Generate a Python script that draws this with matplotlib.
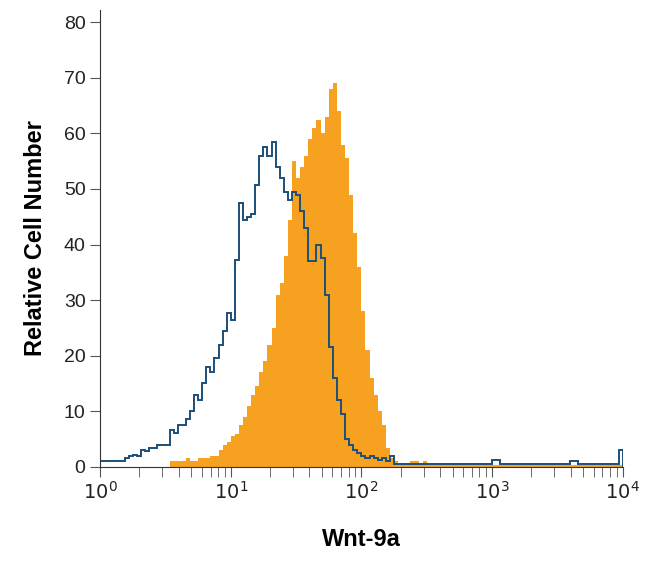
import numpy as np
import matplotlib
matplotlib.use("Agg")
import matplotlib.pyplot as plt
from matplotlib.ticker import LogLocator, FixedLocator

plt.rcParams['font.family'] = ['Liberation Sans', 'DejaVu Sans']

# 32 channels per decade, 10^0 .. 10^4
isotype = [1,1,1,1,1,1,1.5, 2,2.2,2, 3,2.8,3.4, 3.4,4,4, 4,6.6,6, 7.5,7.5,8.6,
           10,13,12, 15,18,17, 19.6,22,24.4, 27.6,26.4,37.2,47.5,44.5,45,45.5,50.7,56,
           57.5,56,58.5,54,52,49.5,48,49.5,49,46,43,37,37,40,37.5,31,21.6,16,12,9.5,
           5,4,3,2.5,2,1.5,2,1.5,1.2,1.5,1,2,
           0.5,0.5,0.5,0.5,0.5,0.5,0.5,0.5,0.5,0.5,0.5,0.5,0.5,0.5,0.5,0.5,0.5,0.5,0.5,0.5,
           0.5,0.5,0.5,0.5,1.2,1.2,0.5,0.5,0.5,0.5,0.5,0.5,0.5,0.5,0.5,0.5,0.5,0.5,0.5,0.5,
           0.5,0.5,0.5,1.0,1.0,0.5,0.5,0.5,0.5,0.5,0.5,0.5,0.5,0.5,0.5,3.0]
wnt9a = [0]*17 + [1.1,1.1,1.1,1.1,1.5,1.1,1.1,1.5,1.5,1.5,2,2,3,
         4,4.5,5.5,5.9,7.5,8.9,11,13,14.5,17,19,22,25,31,33,38,44.5,55,52,54,56,59,61,62.5,
         60,63,68,69,64,58,55.6,49,42,36,28,21,16,13,10,7.6,3.4,1.5,1,
         0.3,0.3,0.3,1,1,0.5,1,0.3] + [0.3]*47

edges = 10 ** (np.arange(129) / 32.0)

fig = plt.figure(figsize=(6.5, 5.61), dpi=100)
ax = fig.add_axes([0.154, 0.168, 0.804, 0.814])
ax.stairs(wnt9a, edges, fill=True, color='#f6a11f', linewidth=0)
ax.stairs(isotype, edges, color='#1c4f7a', linewidth=1.4)
ax.set_xscale('log')
ax.set_xlim(1, 10**4)
ax.set_ylim(0, 82.2)
ax.yaxis.set_major_locator(FixedLocator([0,10,20,30,40,50,60,70,80]))
ax.xaxis.set_major_locator(FixedLocator([1,10,100,1000,10000]))
ax.xaxis.set_minor_locator(LogLocator(base=10, subs=np.arange(2,10)))
ax.set_xticklabels([r'$10^0$', r'$10^1$', r'$10^2$', r'$10^3$', r'$10^4$'])
for s in ['top', 'right']:
    ax.spines[s].set_visible(False)
for s in ['left', 'bottom']:
    ax.spines[s].set_color('#333333')
ax.tick_params(axis='both', which='major', length=7, color='#555555', labelsize=14,
               labelcolor='#222222')
ax.tick_params(axis='x', which='minor', length=7, color='#555555')
ax.set_ylabel('Relative Cell Number', fontsize=17, fontweight='bold', labelpad=12)
ax.set_xlabel('Wnt-9a', fontsize=17, fontweight='bold', labelpad=18)
fig.savefig('out.png', dpi=100)
